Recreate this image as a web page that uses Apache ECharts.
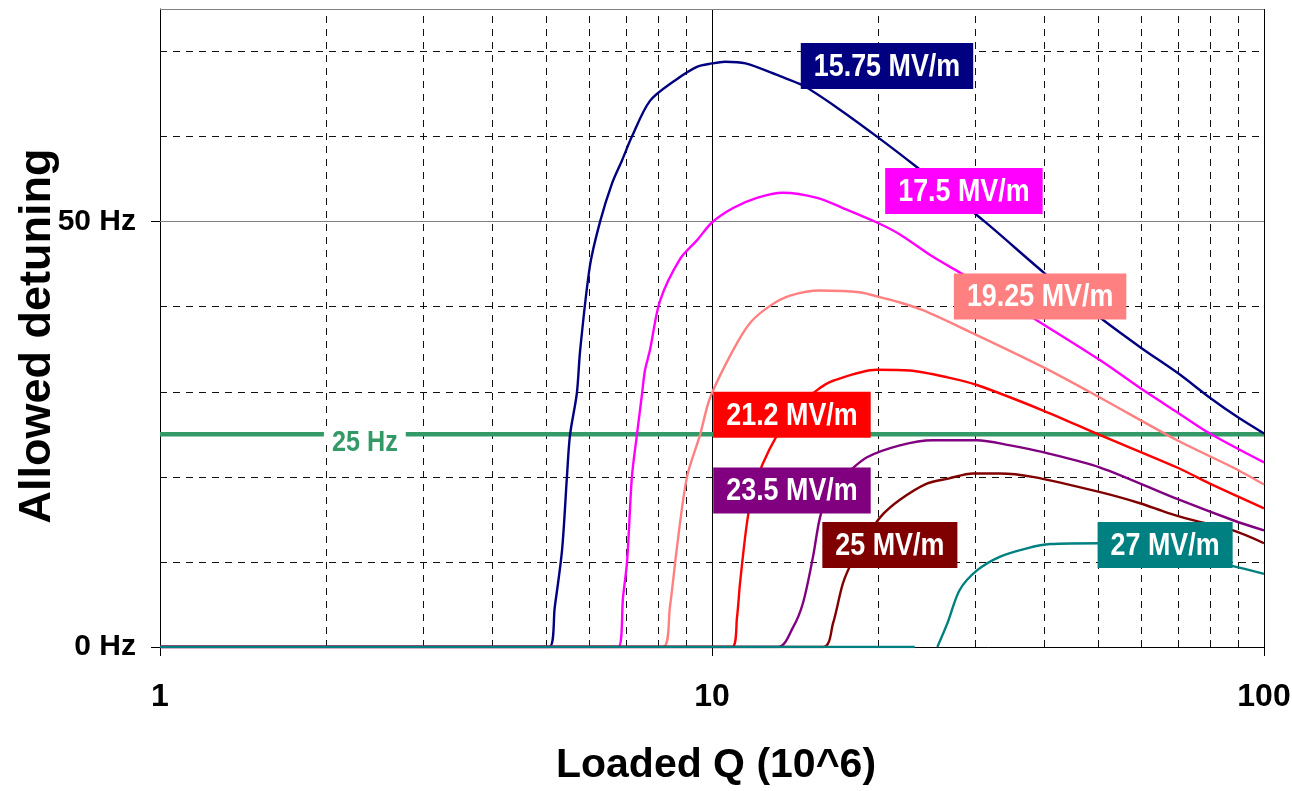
<!DOCTYPE html>
<html>
<head>
<meta charset="utf-8">
<script src="https://cdn.jsdelivr.net/npm/echarts@6/dist/echarts.min.js"></script>
<style>
  html, body { margin: 0; padding: 0; background: #ffffff; }
  #chart { width: 1292px; height: 791px; }
</style>
</head>
<body>
<div id="chart"></div>
<script>
// Allowed detuning (Hz) against loaded Q (x 10^6), one curve per accelerating gradient.
// Each point is [loaded Q, allowed detuning in Hz].
const curve1575 = [[1,0],[5.07,0],[5.19,4.7],[5.35,11.4],[5.46,20],[5.53,24.9],[5.69,29.8],[5.77,34.9],[6.01,44.8],[6.27,50],[6.59,54.5],[6.87,57.2],[7.16,60],[7.72,64.2],[8.57,66.6],[9.39,68.2],[10,68.6],[10.56,68.8],[11.5,68.6],[13.28,67.1],[14.62,66],[16.85,63.4],[19.9,60],[23.3,56.6],[31.2,50],[40.1,43.9],[50.5,38.7],[60.1,35.1],[69.8,32.2],[79.8,29.3],[89.7,27.0],[100,25.1]];
const curve175 = [[1,0],[6.76,0],[6.9,5.9],[7.02,10.2],[7.16,20],[7.31,24.9],[7.47,29.8],[7.56,32.5],[7.72,34.9],[8.05,40.7],[8.75,45.6],[9.39,47.8],[10,49.9],[10.92,51.6],[12.06,52.8],[13.45,53.4],[15.5,52.8],[17.27,51.6],[19.9,49.9],[21.9,48.5],[25.1,45.9],[29.0,43.5],[38.1,38.7],[50.5,33.7],[60.4,30.2],[69.6,27.6],[79.8,25.1],[100,21.7]];
const curve1925 = [[1,0],[8.15,0],[8.39,4.7],[8.64,11.7],[9.01,20],[9.51,24.9],[9.92,29.3],[10.92,34.9],[11.72,38.1],[12.74,40.1],[13.85,41.3],[15.7,41.9],[18.5,41.7],[20.2,41.1],[21.9,40.5],[24.1,39.6],[29.0,37.2],[39.8,32.9],[50.5,29.3],[69.6,24.3],[87.9,21.1],[100,19.1]];
const curve212 = [[1,0],[10.87,0],[11.1,3.5],[11.24,7.5],[11.57,14.6],[11.87,18.4],[12.37,21.6],[13.12,24.9],[14.02,27.8],[15.5,30.2],[16.57,31.3],[19.9,32.6],[22.8,32.5],[26.7,31.7],[30.2,30.8],[39.8,27.8],[50.5,24.9],[69.6,21.1],[79.8,19.2],[100,16.3]];
const curve235 = [[1,0],[13.17,0],[14.02,2.3],[14.62,5.2],[15.24,10.6],[15.7,15.3],[16.36,18.4],[17.56,20.4],[19.09,22.3],[21.9,23.7],[25.1,24.3],[30.2,24.3],[34.7,23.7],[39.8,22.9],[50.5,21.1],[69.6,17.4],[87.9,14.9],[100,13.7]];
const curve25 = [[1,0],[15.9,0],[16.57,2.8],[17.27,7.5],[18.0,10.2],[19.09,12.9],[20.2,15.3],[21.9,17.3],[24.5,19.2],[26.8,19.8],[29.7,20.4],[33.2,20.4],[38.1,20.0],[50.5,18.2],[59.6,16.9],[66.7,15.8],[72.5,15.1],[87.9,13.7],[100,12.2]];
const curve27 = [[1,0],[23.3,0],[24.4,'-'],[25.6,0],[26.7,2.8],[28.1,6.7],[30.2,9.0],[33.2,10.6],[37.2,11.6],[41.0,12.1],[50.5,12.2],[65,11.3],[86.8,9.6],[100,8.6]];

const gradientNames = ['15.75 MV/m', '17.5 MV/m', '19.25 MV/m', '21.2 MV/m', '23.5 MV/m', '25 MV/m', '27 MV/m'];
const gradientCurves = [curve1575, curve175, curve1925, curve212, curve235, curve25, curve27];

// Detuning limit
const limitHz = 25;
const limitQRange = [1, 100];

// Axis tick values
const yLabelValues = [0, 50];
const xLabelValues = [1, 10, 100];
const minorQ = [2, 3, 4, 5, 6, 7, 8, 9, 20, 30, 40, 50, 60, 70, 80, 90];
const dashedHz = [10, 20, 30, 40, 60, 70];
const solidHz = [50, 75];

// ---- styling ----
const FONT = "'Liberation Sans', Arial, sans-serif";
const colors = ['#000080', '#ff00ff', '#ff8080', '#ff0000', '#800080', '#800000', '#008080'];
const limitColor = '#339966';
// where each gradient name tag sits, in [Q, Hz]
const tagAnchors = [[20.75, 68.3], [28.6, 53.6], [39.3, 41.2], [13.96, 27.3], [13.96, 18.4], [21.0, 12.0], [66.2, 12.0]];
const limitTagQ = 2.35;
const Y_MAX = 75;
const NARROW_SCALE = 0.84;   // condensed look for the tag text
const TAG_FONT = 'bold 32px ' + FONT;
const TAG_PAD_X = 13;
const TAG_HEIGHT = 46;
const LIMIT_FONT = 'bold 30px ' + FONT;

const chart = echarts.init(document.getElementById('chart'), null, { renderer: 'canvas' });

const series = [];

// background grid: dashed minor verticals and horizontals, solid grey at 50 Hz and top
series.push({
  type: 'lines', coordinateSystem: 'cartesian2d', silent: true, z: 1, animation: false,
  lineStyle: { color: '#111', width: 1, type: [7, 6], opacity: 1 },
  data: minorQ.map(q => ({ coords: [[q, 0], [q, Y_MAX]] }))
    .concat(dashedHz.map(h => ({ coords: [[1, h], [100, h]] })))
});
series.push({
  type: 'lines', coordinateSystem: 'cartesian2d', silent: true, z: 1, animation: false,
  lineStyle: { color: '#808080', width: 1, type: 'solid', opacity: 1 },
  data: solidHz.map(h => ({ coords: [[1, h], [100, h]] }))
});

// detuning limit line
series.push({
  type: 'line', name: 'limit', z: 3, animation: false, silent: true,
  data: limitQRange.map(q => [q, limitHz]),
  symbol: 'none',
  lineStyle: { color: limitColor, width: 4.5 }
});

gradientCurves.forEach((curve, i) => {
  series.push({
    type: 'line', name: gradientNames[i], z: 4, animation: false, silent: true,
    data: curve,
    showSymbol: false, symbol: 'none',
    smooth: 0.3,
    connectNulls: false,
    lineStyle: { color: colors[i], width: 2.4 }
  });
});

chart.setOption({
  animation: false,
  backgroundColor: '#ffffff',
  grid: { left: 160, right: 28, top: 9, bottom: 144, containLabel: false, outerBoundsMode: 'none' },
  xAxis: {
    type: 'log', logBase: 10, min: 1, max: 100,
    name: 'Loaded Q (10^6)', nameLocation: 'middle', nameGap: 98, nameMoveOverlap: false,
    nameTextStyle: { fontFamily: FONT, fontWeight: 'bold', fontSize: 41, color: '#000', padding: [0, 0, 0, 8] },
    axisLine: { show: true, onZero: false, lineStyle: { color: '#000', width: 1 } },
    axisTick: { show: true, length: 9, customValues: xLabelValues, lineStyle: { color: '#000' } },
    axisLabel: { show: true, customValues: xLabelValues, margin: 34, fontFamily: FONT, fontWeight: 'bold', fontSize: 32, color: '#000' },
    splitLine: { show: true, lineStyle: { color: '#000', width: 1, type: 'solid' } },
    minorTick: { show: false }, minorSplitLine: { show: false }
  },
  yAxis: {
    type: 'value', min: 0, max: Y_MAX, interval: 25,
    name: 'Allowed detuning', nameLocation: 'middle', nameGap: 100, nameRotate: 90, nameMoveOverlap: false,
    nameTextStyle: { fontFamily: FONT, fontWeight: 'bold', fontSize: 45, color: '#000', padding: [0, 16, 0, 0] },
    axisLine: { show: true, lineStyle: { color: '#000', width: 1 } },
    axisTick: { show: true, length: 9, customValues: yLabelValues, lineStyle: { color: '#000' } },
    axisLabel: { show: true, customValues: yLabelValues, margin: 24, formatter: v => v + ' Hz', fontFamily: FONT, fontWeight: 'bold', fontSize: 30, color: '#000' },
    splitLine: { show: false }
  },
  series: series
});

// Name tags and the limit caption, placed through the axes and drawn in a condensed face
const measureCtx = document.createElement('canvas').getContext('2d');
function textWidth(text, font) { measureCtx.font = font; return measureCtx.measureText(text).width; }
const toPx = v => chart.convertToPixel({ xAxisIndex: 0, yAxisIndex: 0 }, v);

const graphics = gradientNames.map((name, i) => {
  const p = toPx(tagAnchors[i]);
  const w = textWidth(name, TAG_FONT) * NARROW_SCALE + 2 * TAG_PAD_X;
  return {
    type: 'group', x: p[0], y: p[1], silent: true,
    children: [
      { type: 'rect', z: 100, shape: { x: -w / 2, y: -TAG_HEIGHT / 2, width: w, height: TAG_HEIGHT }, style: { fill: colors[i] } },
      { type: 'text', z: 101, scaleX: NARROW_SCALE, y: 1, style: { text: name, x: 0, y: 0, fill: '#ffffff', font: TAG_FONT, align: 'center', verticalAlign: 'middle' } }
    ]
  };
});

const lp = toPx([limitTagQ, limitHz]);
const limitText = limitHz + ' Hz';
const lw = textWidth(limitText, LIMIT_FONT) * NARROW_SCALE + 16;
graphics.push({
  type: 'group', x: lp[0], y: lp[1], silent: true,
  children: [
    { type: 'rect', z: 100, shape: { x: -lw / 2, y: -5, width: lw, height: 10 }, style: { fill: '#ffffff' } },
    { type: 'text', z: 101, scaleX: NARROW_SCALE, y: 8, style: { text: limitText, x: 0, y: 0, fill: limitColor, font: LIMIT_FONT, align: 'center', verticalAlign: 'middle' } }
  ]
});

chart.setOption({ graphic: graphics });
</script>
</body>
</html>
